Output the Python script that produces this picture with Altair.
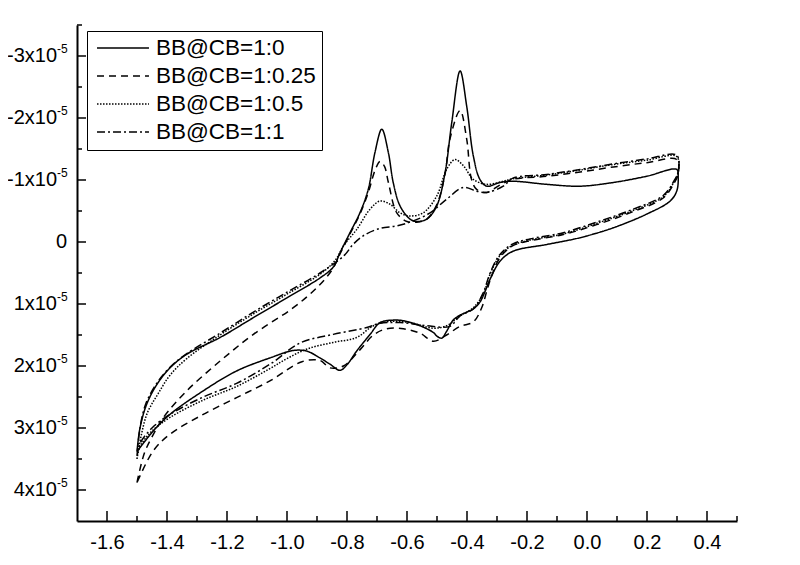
import altair as alt
import pandas as pd

FONT = "Liberation Sans"

series = ["BB@CB=1:0", "BB@CB=1:0.25", "BB@CB=1:0.5", "BB@CB=1:1"]
dashes = [[1, 0], [7, 5], [1.5, 1.5], [8, 3, 2, 3]]

# potential (V) and current (x1e-5 A), traced as closed loops
s0_x = [-1.50, -1.49, -1.468, -1.434, -1.39, -1.334, -1.223, -1.112, -1.0, -0.89, -0.845, -0.823,
        -0.79, -0.757, -0.729, -0.707, -0.684, -0.662, -0.646, -0.623, -0.59, -0.568, -0.534,
        -0.501, -0.473, -0.451, -0.423, -0.401, -0.379, -0.357, -0.334, -0.29, -0.247, -0.134,
        -0.023, 0.088, 0.199, 0.299,
        0.304, 0.299, 0.277, 0.199, 0.088, -0.023, -0.134, -0.247, -0.29, -0.323, -0.34, -0.357,
        -0.379, -0.40, -0.423, -0.446, -0.468, -0.484, -0.50, -0.512, -0.557, -0.612, -0.646,
        -0.69, -0.723, -0.768, -0.80, -0.823, -0.857, -0.89, -0.934, -0.979, -1.057, -1.168,
        -1.279, -1.39, -1.446, -1.50]
s0_y = [3.38, 3.0, 2.62, 2.30, 2.03, 1.81, 1.54, 1.22, 0.90, 0.58, 0.40, 0.17,
        -0.15, -0.47, -0.85, -1.44, -1.82, -1.44, -0.96, -0.58, -0.37, -0.33, -0.37,
        -0.58, -1.12, -1.92, -2.76, -2.19, -1.39, -1.01, -0.90, -0.96, -0.98, -0.93,
        -0.90, -0.96, -1.06, -1.17,
        -1.04, -0.82, -0.66, -0.45, -0.23, -0.07, 0.04, 0.15, 0.31, 0.60, 0.80, 0.97,
        1.08, 1.13, 1.18, 1.26, 1.44, 1.55, 1.52, 1.46, 1.35, 1.27, 1.26,
        1.30, 1.49, 1.76, 1.98, 2.07, 1.97, 1.87, 1.76, 1.75, 1.87, 2.08,
        2.40, 2.78, 3.05, 3.38]

s1_x = [-1.50, -1.475, -1.445, -1.412, -1.334, -1.223, -1.112, -0.979, -0.901, -0.85, -0.823,
        -0.79, -0.757, -0.729, -0.707, -0.69, -0.675, -0.662, -0.634, -0.60, -0.568, -0.534,
        -0.501, -0.473, -0.457, -0.423, -0.401, -0.385, -0.368, -0.334, -0.29, -0.247, -0.134,
        -0.023, 0.088, 0.199, 0.299,
        0.304, 0.288, 0.254, 0.143, 0.032, -0.079, -0.19, -0.247, -0.29, -0.323, -0.334, -0.351,
        -0.379, -0.423, -0.468, -0.512, -0.557, -0.612, -0.668, -0.712, -0.757, -0.812, -0.857,
        -0.89, -0.95, -1.057, -1.168, -1.279, -1.39, -1.446, -1.50]
s1_y = [3.88, 3.40, 3.10, 2.83, 2.40, 1.92, 1.49, 1.06, 0.74, 0.45, 0.19,
        -0.13, -0.45, -0.80, -1.15, -1.30, -1.22, -0.96, -0.47, -0.33, -0.32, -0.37,
        -0.60, -1.10, -1.66, -2.12, -1.66, -1.01, -0.85, -0.80, -0.92, -1.01, -1.06,
        -1.13, -1.21, -1.28, -1.33,
        -1.10, -0.93, -0.71, -0.47, -0.28, -0.12, -0.02, 0.06, 0.25, 0.62, 0.79, 1.06,
        1.29, 1.36, 1.50, 1.60, 1.47, 1.40, 1.40, 1.50, 1.74, 2.00, 2.03,
        1.91, 1.93, 2.24, 2.51, 2.78, 3.10, 3.37, 3.88]

s2_x = [-1.50, -1.485, -1.465, -1.43, -1.39, -1.334, -1.223, -1.112, -1.0, -0.89, -0.84, -0.81,
        -0.768, -0.723, -0.69, -0.657, -0.623, -0.59, -0.546, -0.501, -0.468, -0.44, -0.412,
        -0.379, -0.334, -0.279, -0.247, -0.134, -0.023, 0.088, 0.199, 0.299,
        0.304, 0.288, 0.254, 0.143, 0.032, -0.079, -0.19, -0.247, -0.29, -0.323, -0.346, -0.379,
        -0.423, -0.468, -0.512, -0.59, -0.657, -0.712, -0.768, -0.846, -0.93, -1.0, -1.06,
        -1.168, -1.279, -1.39, -1.45, -1.49, -1.50]
s2_y = [3.50, 3.10, 2.75, 2.45, 2.15, 1.88, 1.50, 1.16, 0.84, 0.52, 0.30, 0.05,
        -0.20, -0.53, -0.66, -0.61, -0.47, -0.42, -0.47, -0.74, -1.17, -1.33, -1.23,
        -1.01, -0.93, -0.98, -1.02, -1.08, -1.16, -1.25, -1.32, -1.38,
        -1.12, -0.95, -0.73, -0.49, -0.30, -0.13, -0.03, 0.05, 0.22, 0.52, 0.84, 1.06,
        1.19, 1.35, 1.39, 1.30, 1.28, 1.35, 1.54, 1.62, 1.72, 1.88, 2.05,
        2.33, 2.55, 2.83, 3.05, 3.30, 3.50]

s3_x = [-1.50, -1.49, -1.47, -1.43, -1.39, -1.334, -1.223, -1.112, -1.0, -0.89, -0.81, -0.78,
        -0.746, -0.69, -0.634, -0.579, -0.523, -0.468, -0.412, -0.368, -0.334, -0.279, -0.247,
        -0.134, -0.023, 0.088, 0.199, 0.299,
        0.304, 0.288, 0.254, 0.143, 0.032, -0.079, -0.19, -0.247, -0.29, -0.323, -0.346, -0.379,
        -0.423, -0.457, -0.534, -0.623, -0.69, -0.734, -0.846, -0.957, -1.05, -1.168, -1.279,
        -1.39, -1.45, -1.49, -1.50]
s3_y = [3.45, 3.00, 2.60, 2.25, 2.02, 1.80, 1.47, 1.13, 0.81, 0.50, 0.22, 0.04,
        -0.10, -0.22, -0.26, -0.34, -0.47, -0.69, -0.88, -0.82, -0.80, -0.90, -1.03,
        -1.09, -1.17, -1.26, -1.34, -1.40,
        -1.14, -0.97, -0.75, -0.51, -0.32, -0.15, -0.05, 0.03, 0.20, 0.50, 0.82, 1.08,
        1.19, 1.36, 1.35, 1.30, 1.31, 1.38, 1.49, 1.63, 1.95, 2.28, 2.50,
        2.78, 3.00, 3.25, 3.45]

x_major = [-1.6, -1.4, -1.2, -1.0, -0.8, -0.6, -0.4, -0.2, 0.0, 0.2, 0.4]
x_minor = [-1.5, -1.3, -1.1, -0.9, -0.7, -0.5, -0.3, -0.1, 0.1, 0.3, 0.5]
y_major = [-3, -2, -1, 0, 1, 2, 3, 4]
y_minor = [-3.5, -2.5, -1.5, -0.5, 0.5, 1.5, 2.5, 3.5]
y_lab_vals = [-3, -2, -1, 1, 2, 3, 4]
y_lab_mant = ["-3x10", "-2x10", "-1x10", "1x10", "2x10", "3x10", "4x10"]
y_lab_exp = ["-5", "-5", "-5", "-5", "-5", "-5", "-5"]

rows = []
for name, xs, ys in zip(series, [s0_x, s1_x, s2_x, s3_x], [s0_y, s1_y, s2_y, s3_y]):
    for i, (xv, yv) in enumerate(zip(xs, ys)):
        rows.append({"series": name, "i": i, "E": xv, "I": yv})
df = pd.DataFrame(rows)

W, H = 660, 496
xscale = alt.Scale(domain=[-1.7, 0.5], nice=False, zero=False)
yscale = alt.Scale(domain=[-3.5, 4.5], reverse=True, nice=False, zero=False)

xaxis = alt.Axis(values=x_major, ticks=False, grid=False, domainColor="black",
                 domainWidth=2, labelFontSize=20, labelFont=FONT, labelColor="black",
                 labelPadding=11, labelFlush=False, labelOverlap=False,
                 labelExpr="(datum.value < -0.0001 ? '-' : '') + format(abs(datum.value), '.1f')")
yaxis = alt.Axis(labels=False, ticks=False, grid=False, domainColor="black", domainWidth=2)


def X(field):
    return alt.X(field, scale=xscale, title=None, axis=xaxis)


def Y(field):
    return alt.Y(field, scale=yscale, title=None, axis=yaxis)


lines = alt.Chart(df).mark_line(
    interpolate="catmull-rom", strokeWidth=1.5, color="black", strokeJoin="round"
).encode(
    x=X("E:Q"),
    y=Y("I:Q"),
    strokeDash=alt.StrokeDash(
        "series:N", scale=alt.Scale(domain=series, range=dashes),
        legend=alt.Legend(orient="none", legendX=10, legendY=6, title=None,
                          symbolType="stroke", symbolSize=2700, symbolStrokeWidth=1.5,
                          symbolStrokeColor="black", labelFontSize=22.5, labelFont=FONT,
                          labelColor="black", strokeColor="black", fillColor="white",
                          padding=6, rowPadding=5, labelOffset=6, labelLimit=400,
                          clipHeight=22, symbolOffset=3)),
    order="i:Q",
)

ymaj = alt.Chart(pd.DataFrame({"v": y_major})).mark_rule(color="black", strokeWidth=1.5).encode(
    y=Y("v:Q"), x=alt.value(0), x2=alt.value(9))
ymin = alt.Chart(pd.DataFrame({"v": y_minor})).mark_rule(color="black", strokeWidth=1.5).encode(
    y=Y("v:Q"), x=alt.value(0), x2=alt.value(5))
xmaj = alt.Chart(pd.DataFrame({"v": x_major})).mark_rule(color="black", strokeWidth=1.5).encode(
    x=X("v:Q"), y=alt.value(H), y2=alt.value(H - 10))
xmin = alt.Chart(pd.DataFrame({"v": x_minor})).mark_rule(color="black", strokeWidth=1.5).encode(
    x=X("v:Q"), y=alt.value(H), y2=alt.value(H - 5))

lab_df = pd.DataFrame({"v": y_lab_vals, "mant": y_lab_mant, "exp": y_lab_exp})
ymant = alt.Chart(lab_df).mark_text(align="right", baseline="middle", fontSize=20, font=FONT,
                                    color="black").encode(
    y=Y("v:Q"), x=alt.value(-20), text="mant:N")
yexp = alt.Chart(lab_df).mark_text(align="left", baseline="middle", fontSize=12, font=FONT,
                                   color="black", dy=-7).encode(
    y=Y("v:Q"), x=alt.value(-20), text="exp:N")
yzero = alt.Chart(pd.DataFrame({"v": [0], "t": ["0"]})).mark_text(
    align="right", baseline="middle", fontSize=20, font=FONT, color="black").encode(
    y=Y("v:Q"), x=alt.value(-10), text="t:N")

chart = alt.layer(lines, ymaj, ymin, xmaj, xmin, ymant, yexp, yzero).properties(
    width=W, height=H,
    autosize=alt.AutoSizeParams(type="none"),
    padding={"left": 69, "top": 17, "right": 40, "bottom": 34},
).configure_view(stroke=None)

chart.save("out.html", embed_options={"renderer": "svg", "actions": False})
